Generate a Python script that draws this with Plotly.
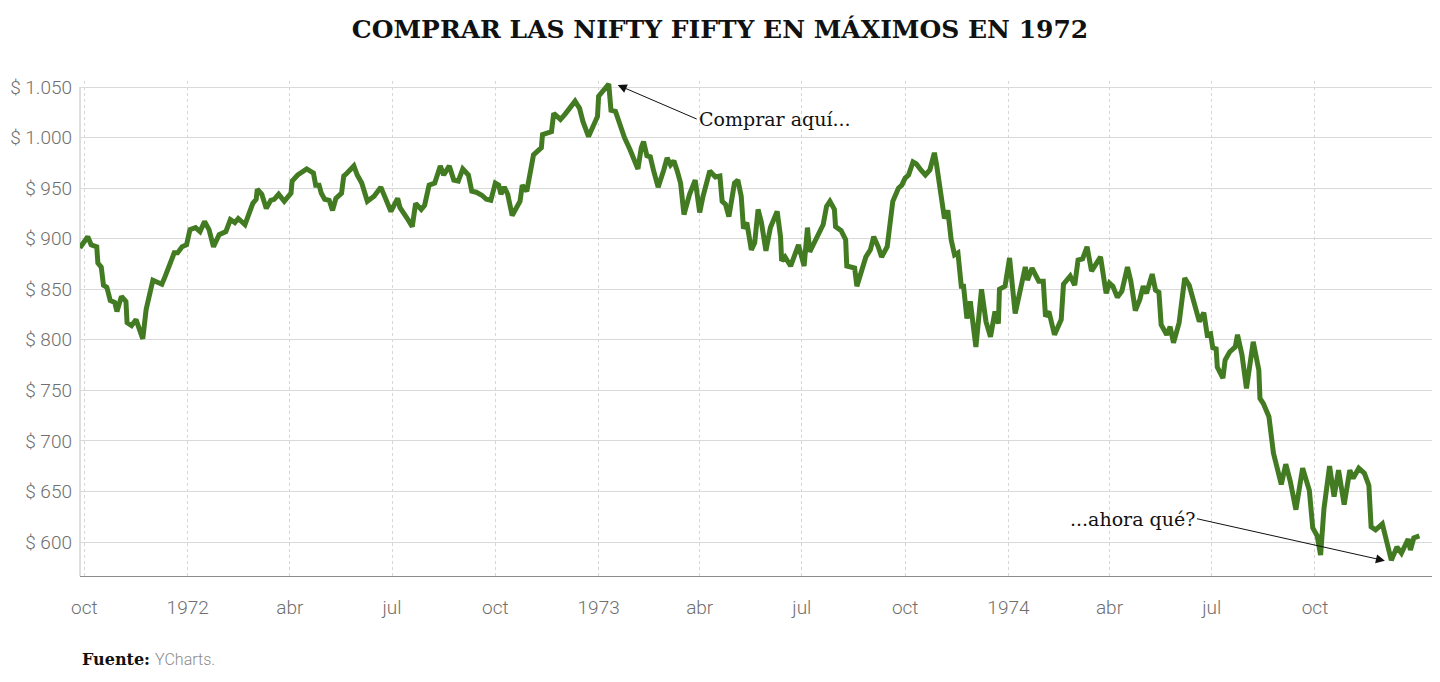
import pandas as pd
import plotly.graph_objects as go

# Nifty Fifty (YCharts): días desde el 1 de octubre de 1971 y precio
dias_1971 = [-4, 3, 6, 11, 12, 15, 17, 20, 23, 27, 29, 33, 37, 38, 42, 46, 52, 55, 61, 69,
             72, 76, 80, 83, 87]
precios_1971 = [891, 902, 894, 892, 876, 872, 854, 852, 839, 837, 828, 843, 838, 817, 814, 820, 801, 830, 859, 855,
                863, 876, 886, 886, 892]

dias_1972 = [91, 94, 99, 103, 107, 111, 115, 120, 126, 130, 134, 137, 143, 150, 153, 154, 158, 162, 166, 169,
             173, 178, 184, 185, 190, 198, 204, 206, 209, 211, 214, 218, 221, 224, 229, 231, 234, 240, 243, 247,
             252, 258, 264, 269, 273, 279, 281, 287, 292, 295, 300, 303, 307, 312, 317, 320, 325, 329, 333, 337,
             342, 345, 349, 354, 358, 362, 366, 369, 371, 374, 377, 381, 388, 390, 394, 400, 407, 408, 416, 418,
             424, 428, 437, 441, 444, 449, 455, 457]
precios_1972 = [894, 909, 911, 907, 917, 909, 892, 904, 907, 919, 916, 920, 914, 935, 939, 949, 944, 930, 938, 939,
                944, 937, 945, 957, 963, 969, 965, 953, 953, 945, 939, 938, 928, 940, 945, 962, 965, 972, 963, 955,
                937, 942, 951, 939, 927, 940, 931, 921, 912, 935, 929, 933, 953, 955, 972, 963, 972, 958, 957, 969,
                963, 947, 946, 943, 939, 938, 955, 953, 944, 951, 944, 923, 937, 953, 947, 983, 990, 1003, 1006, 1024,
                1018, 1023, 1036, 1029, 1016, 1001, 1016, 1021]

dias_1973 = [458, 462, 467, 469, 473, 477, 481, 486, 489, 493, 496, 498, 501, 504, 507, 511, 516, 519, 522, 525,
             528, 531, 534, 539, 544, 548, 551, 554, 557, 562, 566, 568, 571, 574, 579, 582, 585, 587, 590, 594,
             597, 600, 603, 607, 611, 617, 620, 621, 624, 629, 636, 641, 644, 646, 653, 658, 661, 664, 668, 669,
             674, 678, 679, 683, 686, 688, 692, 696, 700, 703, 707, 710, 715, 717, 720, 725, 728, 731, 734, 738,
             741, 745, 749, 753, 757, 759, 762, 766, 769, 772, 775, 778, 781, 783, 786, 789, 791, 794, 799, 803,
             807, 811, 814, 815, 820]
precios_1973 = [1041, 1046, 1053, 1027, 1026, 1013, 1000, 988, 980, 969, 990, 996, 982, 981, 967, 951, 968, 980, 973, 977,
                967, 955, 924, 944, 958, 926, 942, 955, 967, 961, 962, 937, 934, 922, 955, 958, 942, 910, 916, 889,
                896, 929, 916, 888, 911, 927, 902, 878, 882, 873, 894, 873, 911, 887, 904, 914, 932, 937, 929, 912,
                908, 899, 873, 872, 871, 853, 868, 882, 889, 902, 892, 882, 892, 914, 937, 950, 953, 960, 963, 976,
                974, 968, 963, 968, 985, 973, 952, 920, 928, 899, 884, 886, 853, 853, 821, 838, 820, 793, 850, 818,
                803, 828, 816, 850, 853]

dias_1974 = [824, 829, 834, 838, 840, 844, 850, 854, 856, 859, 864, 868, 870, 872, 878, 882, 885, 889, 893, 897,
             905, 910, 913, 916, 920, 924, 929, 932, 936, 940, 943, 946, 951, 954, 957, 959, 964, 967, 970, 975,
             980, 984, 988, 993, 997, 1000, 1003, 1005, 1008, 1009, 1014, 1016, 1020, 1025, 1027, 1031, 1035, 1041, 1046, 1047,
             1050, 1055, 1059, 1066, 1070, 1074, 1079, 1085, 1091, 1094, 1098, 1101, 1104, 1109, 1113, 1117, 1122, 1127, 1130, 1135,
             1140, 1144, 1146, 1150, 1156, 1160, 1164, 1169, 1173, 1179, 1181, 1184, 1189]
precios_1974 = [881, 826, 854, 872, 859, 871, 858, 858, 823, 828, 805, 815, 820, 855, 863, 854, 879, 880, 892, 868,
                882, 846, 856, 853, 842, 848, 872, 858, 829, 840, 853, 846, 865, 849, 847, 815, 805, 813, 797, 817,
                861, 854, 836, 818, 827, 805, 806, 792, 791, 773, 762, 780, 788, 793, 805, 785, 752, 798, 770, 742,
                737, 724, 688, 657, 677, 660, 632, 673, 651, 614, 606, 587, 633, 675, 645, 671, 637, 671, 663, 673,
                668, 656, 615, 612, 618, 600, 582, 595, 589, 603, 592, 604, 606]

trimestres = ["1971-10-01", "1972-01-01", "1972-04-01", "1972-07-01", "1972-10-01", "1973-01-01", "1973-04-01",
              "1973-07-01", "1973-10-01", "1974-01-01", "1974-04-01", "1974-07-01", "1974-10-01"]
etiquetas_x = ["oct", "1972", "abr", "jul", "oct", "1973", "abr", "jul", "oct", "1974", "abr", "jul", "oct"]
valores_y = [600, 650, 700, 750, 800, 850, 900, 950, 1000, 1050]
etiquetas_y = ["$ 600", "$ 650", "$ 700", "$ 750", "$ 800", "$ 850", "$ 900", "$ 950", "$ 1.000", "$ 1.050"]

dias = dias_1971 + dias_1972 + dias_1973 + dias_1974
precios = precios_1971 + precios_1972 + precios_1973 + precios_1974
fechas = pd.Timestamp("1971-10-01") + pd.to_timedelta(dias, unit="D")

VERDE = "#437b22"
GRIS = "#6e6e6e"

# la página deja 8px de margen en el body: la figura ocupa 1432x674
ANCHO, ALTO = 1432, 674

fig = go.Figure()
fig.add_trace(go.Scatter(
    x=fechas, y=precios, mode="lines",
    line=dict(color=VERDE, width=5, shape="linear"),
    hoverinfo="skip", showlegend=False,
))

fig.update_layout(
    width=ANCHO, height=ALTO,
    margin=dict(l=72, r=4, t=73, b=106),
    paper_bgcolor="white", plot_bgcolor="white",
    title=dict(
        text="<b>COMPRAR LAS NIFTY FIFTY EN MÁXIMOS EN 1972</b>",
        font=dict(family="DejaVu Serif", size=25, color="#111111"),
        x=(720 - 8) / ANCHO, xref="container", xanchor="center",
        y=1 - 21 / ALTO, yref="container", yanchor="middle",
    ),
    xaxis=dict(
        range=["1971-09-27T02:00", "1975-01-16T19:00"],
        tickvals=trimestres, ticktext=etiquetas_x,
        showgrid=True, gridcolor="#d6d6d6", gridwidth=1, griddash="dot",
        showline=True, linecolor="#8c8c8c", linewidth=1,
        ticks="", ticklabelstandoff=14, automargin=False,
        tickfont=dict(family="Roboto", size=19, color=GRIS, weight=300),
        zeroline=False,
    ),
    yaxis=dict(
        range=[566.4, 1056],
        tickvals=valores_y, ticktext=etiquetas_y,
        showgrid=True, gridcolor="#d9d9d9", gridwidth=1,
        showline=False, ticks="", ticklabelstandoff=7, automargin=False,
        tickfont=dict(family="Roboto", size=19, color=GRIS, weight=300),
        zeroline=False,
    ),
    shapes=[dict(
        type="line", xref="paper", yref="y", x0=0, x1=0, y0=566.4, y1=1050,
        line=dict(color="#bdbdbd", width=1), layer="below",
    )],
    annotations=[
        dict(
            x="1973-01-18", y=1052, xref="x", yref="y",
            text="Comprar aquí...", showarrow=True,
            ax=79, ay=34, xanchor="left", yanchor="middle",
            arrowhead=2, arrowsize=1.8, arrowwidth=1, arrowcolor="#111111",
            font=dict(family="DejaVu Serif", size=19, color="#111111"),
        ),
        dict(
            x="1974-12-02T07:00", y=581.5, xref="x", yref="y",
            text="...ahora qué?", showarrow=True,
            ax=-188, ay=-42, xanchor="right", yanchor="middle",
            arrowhead=2, arrowsize=1.8, arrowwidth=1, arrowcolor="#111111",
            font=dict(family="DejaVu Serif", size=19, color="#111111"),
        ),
        dict(
            x=0, y=-83 / 495, xref="paper", yref="paper",
            xanchor="left", yanchor="middle", showarrow=False,
            text="<b>Fuente:</b> <span style='font-family:Roboto;font-weight:300;color:#8a8a8a'>YCharts.</span>",
            font=dict(family="DejaVu Serif", size=16, color="#111111"),
        ),
    ],
)

fig.write_html("out.html")
